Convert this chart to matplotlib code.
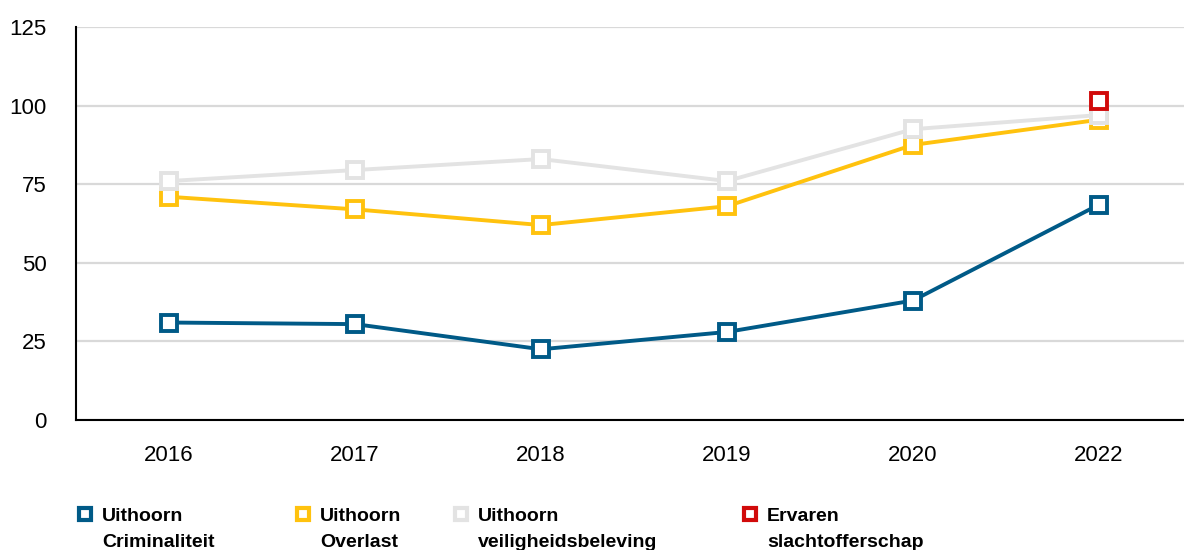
import numpy as np
import matplotlib.pyplot as plt
from matplotlib.lines import Line2D

plt.rcParams['font.family'] = ['Liberation Sans', 'DejaVu Sans']

years = ['2016', '2017', '2018', '2019', '2020', '2022']
criminaliteit = [31, 30.5, 22.5, 28, 38, 68.5]
overlast = [71, 67, 62, 68, 87.5, 95.5]
veiligheid = [76, 79.5, 83, 76, 92.5, 97]
slachtoffer = [np.nan, np.nan, np.nan, np.nan, np.nan, 101.5]

names_top = ['Uithoorn', 'Uithoorn', 'Uithoorn', 'Ervaren']
names_bottom = ['Criminaliteit', 'Overlast', 'veiligheidsbeleving', 'slachtofferschap']
colors = ['#005A87', '#FFC20E', '#E3E3E3', '#D10A0A']

W, H = 1184, 550
fig = plt.figure(figsize=(W / 100, H / 100), dpi=100)
ax = fig.add_axes([76 / W, 130 / H, (1192 - 76) / W, 393 / H])

x = np.arange(len(years))
series = [criminaliteit, overlast, veiligheid, slachtoffer]
zorders = [5, 3, 4, 6]
for vals, c, z in zip(series, colors, zorders):
    ax.plot(x, vals, color=c, lw=2.8, marker='s', ms=11, mfc='white',
            mec=c, mew=2.8, zorder=z, clip_on=False)

ax.set_xlim(-0.5, 5.5)
ax.set_ylim(0, 125)
ax.set_yticks([0, 25, 50, 75, 100, 125])
ax.set_xticks(x)
ax.set_xticklabels(years)
ax.tick_params(axis='both', length=0, labelsize=16)
ax.tick_params(axis='y', pad=21)
ax.tick_params(axis='x', pad=18)
for lab in ax.get_yticklabels():
    lab.set_horizontalalignment('right')
ax.yaxis.grid(True, color='#D9D9D9', lw=1.6)
ax.set_axisbelow(True)
for s in ['top', 'right']:
    ax.spines[s].set_visible(False)
for s in ['left', 'bottom']:
    ax.spines[s].set_color('black')
    ax.spines[s].set_linewidth(1.5)

# legend: one block per series, second line as extra text
leg_x = [77, 295, 453, 742]
for i in range(4):
    h = Line2D([], [], ls='none', marker='s', ms=8, mfc='white',
               mec=colors[i], mew=3)
    fig.legend(handles=[h], labels=[names_top[i]], loc='center left',
               bbox_to_anchor=(leg_x[i] / W, 1 - 516 / H), frameon=False,
               prop=dict(weight='bold', size=14), handlelength=0.8,
               handletextpad=0.48, borderpad=0, borderaxespad=0)
    fig.text((leg_x[i] + 25) / W, 1 - 547 / H, names_bottom[i], fontsize=14,
             fontweight='bold', va='baseline', ha='left')

fig.savefig('out.png', dpi=100)
